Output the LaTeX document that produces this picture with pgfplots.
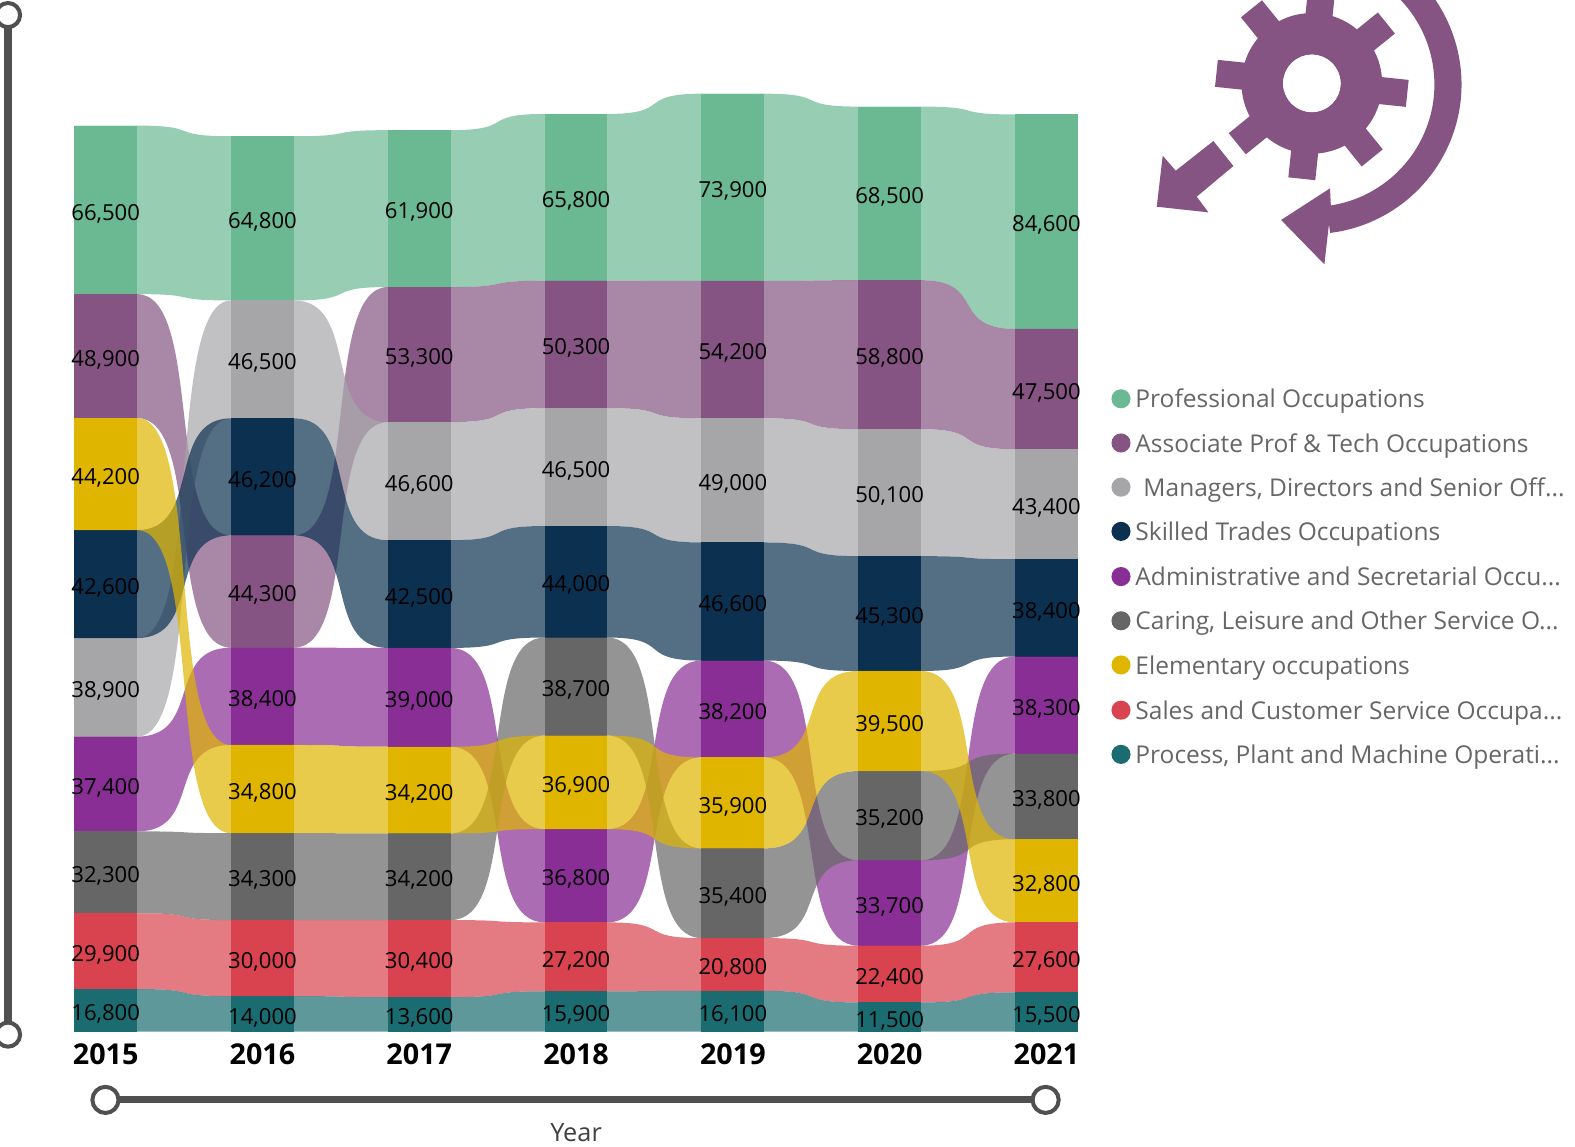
\documentclass[border=0pt]{standalone}
\usepackage{fontspec}
\setmainfont{Open Sans}
\usepackage{pgfplots}
\pgfplotsset{compat=1.18}
\definecolor{prof}{HTML}{6BB993}
\definecolor{assoc}{HTML}{855482}
\definecolor{mgr}{HTML}{A6A6A9}
\definecolor{skilled}{HTML}{0C3050}
\definecolor{admin}{HTML}{882E94}
\definecolor{caring}{HTML}{666666}
\definecolor{elem}{HTML}{DFB500}
\definecolor{sales}{HTML}{D8434F}
\definecolor{proc}{HTML}{1A6C71}
\definecolor{slider}{HTML}{505050}
\definecolor{legtext}{HTML}{666666}

% plot handler: every segment between two points is an S-curve with flat ends
\makeatletter
\newif\ifrb@first
\newdimen\rb@x \newdimen\rb@y \newdimen\rb@a \newdimen\rb@b \newdimen\rb@l
\def\rb@point#1{%
  \pgf@process{#1}\rb@x=\pgf@x \rb@y=\pgf@y
  \ifrb@first
    \pgfpathmoveto{\pgfqpoint{\rb@x}{\rb@y}}\global\rb@firstfalse
  \else
    \rb@l=\rb@lastx\relax
    \rb@a=0.7\rb@x \advance\rb@a by 0.3\rb@l
    \rb@b=0.3\rb@x \advance\rb@b by 0.7\rb@l
    \pgfpathcurveto{\pgfqpoint{\rb@a}{\rb@lasty}}{\pgfqpoint{\rb@b}{\rb@y}}{\pgfqpoint{\rb@x}{\rb@y}}%
  \fi
  \xdef\rb@lastx{\the\rb@x}\xdef\rb@lasty{\the\rb@y}}
\pgfdeclareplothandler{\pgfplothandlerribbon}{}{%
  start=\global\rb@firsttrue,
  point=\rb@point{##1},
  jump=\global\rb@firsttrue,
}
\tikzset{ribbon plot/.code={\def\tikz@plot@handler{\pgfplothandlerribbon}}}
\makeatother

\pgfkeys{/pgf/number format/.cd,fixed,1000 sep={,},assume math mode=true}

% #1 colour, #2 list lo/hi/value for 2015...2021 (lo and hi in thousands)
\newcommand{\series}[2]{%
  \gdef\rbtop{}\gdef\rbbot{}%
  \foreach \lo/\hi/\val [count=\i from 0] in {#2}{%
    \pgfmathsetmacro\xa{\i-0.2}\pgfmathsetmacro\xb{\i+0.2}%
    \xdef\rbtop{\rbtop(\xa,\hi)(\xb,\hi)}%
    \xdef\rbbot{(\xb,\lo)(\xa,\lo)\rbbot}%
  }%
  \edef\tmp{\noexpand\addplot[ribbon plot,fill=#1,draw=none,fill opacity=0.7,forget plot] coordinates {\rbtop\rbbot} -- cycle;}\tmp
  \foreach \lo/\hi/\val [count=\i from 0] in {#2}{%
    \pgfmathsetmacro\xa{\i-0.2}\pgfmathsetmacro\xb{\i+0.2}%
    \pgfmathsetmacro\ym{(\lo+\hi)/2}%
    \edef\tmp{\noexpand\addplot[fill=#1,draw=none,forget plot] coordinates {(\xa,\lo)(\xb,\lo)(\xb,\hi)(\xa,\hi)} -- cycle;}\tmp
    \edef\tmp{\noexpand\node[vlab] at (axis cs:\i,\ym) {\noexpand\pgfmathprintnumber{\val}};}\tmp
  }%
}

\begin{document}
\begin{tikzpicture}[x=0.5pt,y=-0.5pt,
  vlab/.style={font=\fontsize{11}{12}\selectfont,text=black,yshift=-1.8pt,inner sep=0pt},
  leg/.style={anchor=base west,inner sep=0pt,text=legtext,font=\fontsize{12.2}{14}\selectfont}]
\path[use as bounding box,clip] (0,0) rectangle (1568,1141);

\begin{axis}[
  at={(37pt,-513.5pt)},anchor=south west,
  scale only axis,width=499.5pt,height=504.6pt,
  xmin=-0.2,xmax=6.2,ymin=0,ymax=400,
  clip=false,hide y axis,
  axis line style={draw=none},tick style={draw=none},major tick length=0pt,
  xtick={0,1,2,3,4,5,6},
  xticklabels={2015,2016,2017,2018,2019,2020,2021},
  xticklabel style={font=\bfseries\fontsize{14.3}{15}\selectfont,anchor=center,yshift=-11.5pt,text=black},
  xlabel={Year},
  every axis x label/.style={at={(axis description cs:0.5,0)},anchor=center,yshift=-50.5pt,font=\fontsize{12.6}{14}\selectfont,text=black!75},
]
\series{prof}{291.0/357.5/66500,288.5/353.3/64800,293.8/355.7/61900,296.3/362.1/65800,296.2/370.1/73900,296.5/365.0/68500,277.3/361.9/84600}
\series{assoc}{242.1/291.0/48900,151.5/195.8/44300,240.5/293.8/53300,246.0/296.3/50300,242.0/296.2/54200,237.7/296.5/58800,229.8/277.3/47500}
\series{mgr}{116.4/155.3/38900,242.0/288.5/46500,193.9/240.5/46600,199.5/246.0/46500,193.0/242.0/49000,187.6/237.7/50100,186.4/229.8/43400}
\series{skilled}{155.3/197.9/42600,195.8/242.0/46200,151.4/193.9/42500,155.5/199.5/44000,146.4/193.0/46600,142.3/187.6/45300,148.0/186.4/38400}
\series{admin}{79.0/116.4/37400,113.1/151.5/38400,112.4/151.4/39000,43.1/79.9/36800,108.2/146.4/38200,33.9/67.6/33700,109.7/148.0/38300}
\series{caring}{46.7/79.0/32300,44.0/78.3/34300,44.0/78.2/34200,116.8/155.5/38700,36.9/72.3/35400,67.6/102.8/35200,75.9/109.7/33800}
\series{elem}{197.9/242.1/44200,78.3/113.1/34800,78.2/112.4/34200,79.9/116.8/36900,72.3/108.2/35900,102.8/142.3/39500,43.1/75.9/32800}
\series{sales}{16.8/46.7/29900,14.0/44.0/30000,13.6/44.0/30400,15.9/43.1/27200,16.1/36.9/20800,11.5/33.9/22400,15.5/43.1/27600}
\series{proc}{0/16.8/16800,0/14.0/14000,0/13.6/13600,0/15.9/15900,0/16.1/16100,0/11.5/11500,0/15.5/15500}
\end{axis}

% sliders
\draw[slider,line width=3.6pt] (8,15) -- (8,1030);
\draw[slider,line width=2pt,fill=white] (8,15) circle[radius=12];
\draw[slider,line width=2pt,fill=white] (8,1030) circle[radius=12];
\draw[slider,line width=3.4pt] (105,1095) -- (1041,1095);
\draw[slider,line width=2pt,fill=white] (105,1095) circle[radius=13];
\draw[slider,line width=2pt,fill=white] (1041,1095) circle[radius=13];

% legend
\foreach \c/\yy/\xx/\t in {
  prof/397/1130/{Professional Occupations},
  assoc/441/1130/{Associate Prof \& Tech Occupations},
  mgr/485/1138/{Managers, Directors and Senior Off...},
  skilled/529/1130/{Skilled Trades Occupations},
  admin/574/1130/{Administrative and Secretarial Occu...},
  caring/618/1130/{Caring, Leisure and Other Service O...},
  elem/662/1130/{Elementary occupations},
  sales/707/1130/{Sales and Customer Service Occupa...},
  proc/751/1130/{Process, Plant and Machine Operati...}}{
  \fill[\c] (1116,\yy) circle[radius=9.5];
  \node[leg] at (\xx,\yy+9) {\t};
}

% gear icon
\begin{scope}[shift={(1306,83)}]
  \fill[assoc,even odd rule] (0,0) circle[radius=70] (0,0) circle[radius=28.6];
  \foreach \a in {6,51,...,321}{
    \fill[assoc,rotate=-\a] (62,-13.5) rectangle (95.5,13.5);
  }
  \fill[white] (0,0) circle[radius=28.6];
\end{scope}
\fill[assoc] (1208,140.4) -- (1227.9,165.3) -- (1191.4,195.8) -- (1203,211.4) -- (1151.6,205.8) -- (1157.5,155) -- (1170.5,169.9) -- cycle;
\begin{scope}[shift={(1306,84)}]
  \fill[assoc] (-60:149) arc[start angle=-60,end angle=83,radius=149] -- (83:122) arc[start angle=83,end angle=-60,radius=122] -- cycle;
\end{scope}
\fill[assoc] (1324.1,187.5) -- (1275.4,219) -- (1318.5,263.2) -- (1322,232) -- (1325,207) -- cycle;
\end{tikzpicture}
\end{document}
